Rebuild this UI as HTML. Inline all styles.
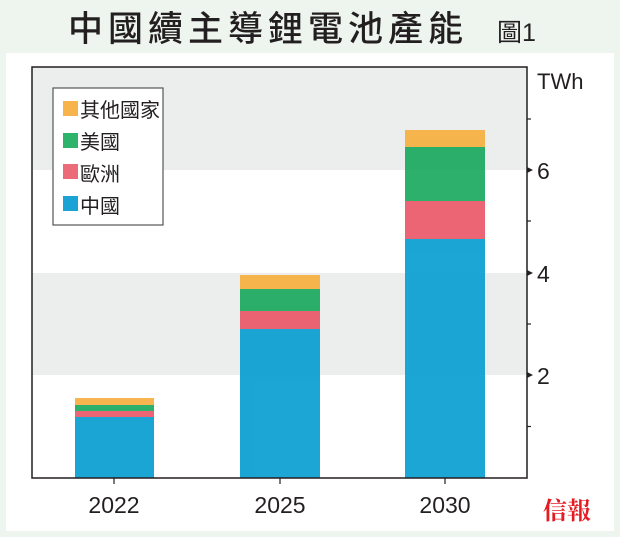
<!DOCTYPE html>
<html><head><meta charset="utf-8"><style>
body{margin:0;width:620px;height:537px;background:#eef5ef;overflow:hidden;font-family:"Liberation Sans","Noto Sans CJK TC",sans-serif}
</style></head><body>
<svg width="620" height="537" xmlns="http://www.w3.org/2000/svg" style="position:absolute;left:0;top:0">
<rect x="6" y="53" width="608" height="478" fill="#fff"/>
<text x="68" y="41" font-size="35" font-weight="500" fill="#231f20" letter-spacing="5" font-family="Noto Sans CJK TC,sans-serif">中國續主導鋰電池產能</text>
<text x="497" y="41" font-size="25" fill="#231f20" font-family="Liberation Sans,Noto Sans CJK TC,sans-serif">圖1</text>
<rect x="32" y="67" width="495" height="103" fill="#ebeeed"/>
<rect x="32" y="273" width="495" height="102" fill="#ebeeed"/>
<g opacity="0.9">
<rect x="75" y="417" width="79" height="61" fill="#039cd1"/>
<rect x="75" y="411" width="79" height="6" fill="#ea5565"/>
<rect x="75" y="405" width="79" height="6" fill="#16a85c"/>
<rect x="75" y="398" width="79" height="7" fill="#f8ae3c"/>
<rect x="240" y="329" width="80" height="149" fill="#039cd1"/>
<rect x="240" y="311" width="80" height="18" fill="#ea5565"/>
<rect x="240" y="289" width="80" height="22" fill="#16a85c"/>
<rect x="240" y="275" width="80" height="14" fill="#f8ae3c"/>
<rect x="405" y="239" width="80" height="239" fill="#039cd1"/>
<rect x="405" y="201" width="80" height="38" fill="#ea5565"/>
<rect x="405" y="147" width="80" height="54" fill="#16a85c"/>
<rect x="405" y="130" width="80" height="17" fill="#f8ae3c"/>
</g>
<path d="M32,478 V67 H527 V478 Z" fill="none" stroke="#231f20" stroke-width="1.5"/>
<g stroke="#231f20" stroke-width="1.2">
<line x1="114" y1="478" x2="114" y2="484"/><line x1="280" y1="478" x2="280" y2="484"/><line x1="445" y1="478" x2="445" y2="484"/>
<line x1="527" y1="426.5" x2="531" y2="426.5"/><line x1="527" y1="324" x2="531" y2="324"/><line x1="527" y1="221" x2="531" y2="221"/><line x1="527" y1="119" x2="531" y2="119"/>
</g>
<g fill="#231f20">
<polygon points="527,372 533,375 527,378"/><polygon points="527,270 533,273 527,276"/><polygon points="527,167 533,170 527,173"/>
</g>
<g font-size="23" fill="#231f20" font-family="Liberation Sans,sans-serif">
<text x="537" y="384">2</text><text x="537" y="282">4</text><text x="537" y="179">6</text>
<text x="537" y="89" font-size="22">TWh</text>
<text x="114" y="513" text-anchor="middle">2022</text>
<text x="280" y="513" text-anchor="middle">2025</text>
<text x="445" y="513" text-anchor="middle">2030</text>
</g>
<rect x="53" y="88" width="110" height="137" fill="#fff" stroke="#555" stroke-width="1.2"/>
<rect x="63" y="101" width="15" height="15" fill="#f8b44c"/>
<rect x="63" y="133" width="15" height="15" fill="#2db36a"/>
<rect x="63" y="164" width="15" height="15" fill="#ec6b78"/>
<rect x="63" y="196" width="15" height="15" fill="#1aa3d4"/>
<g font-size="20" fill="#231f20" font-family="Noto Sans CJK TC,sans-serif">
<text x="80" y="117">其他國家</text><text x="80" y="149">美國</text><text x="80" y="181">歐洲</text><text x="80" y="213">中國</text>
</g>
<text x="543" y="519" font-size="24" font-weight="bold" fill="#e31b23" font-family="Noto Serif CJK SC,serif">信報</text>
</svg>
</body></html>
